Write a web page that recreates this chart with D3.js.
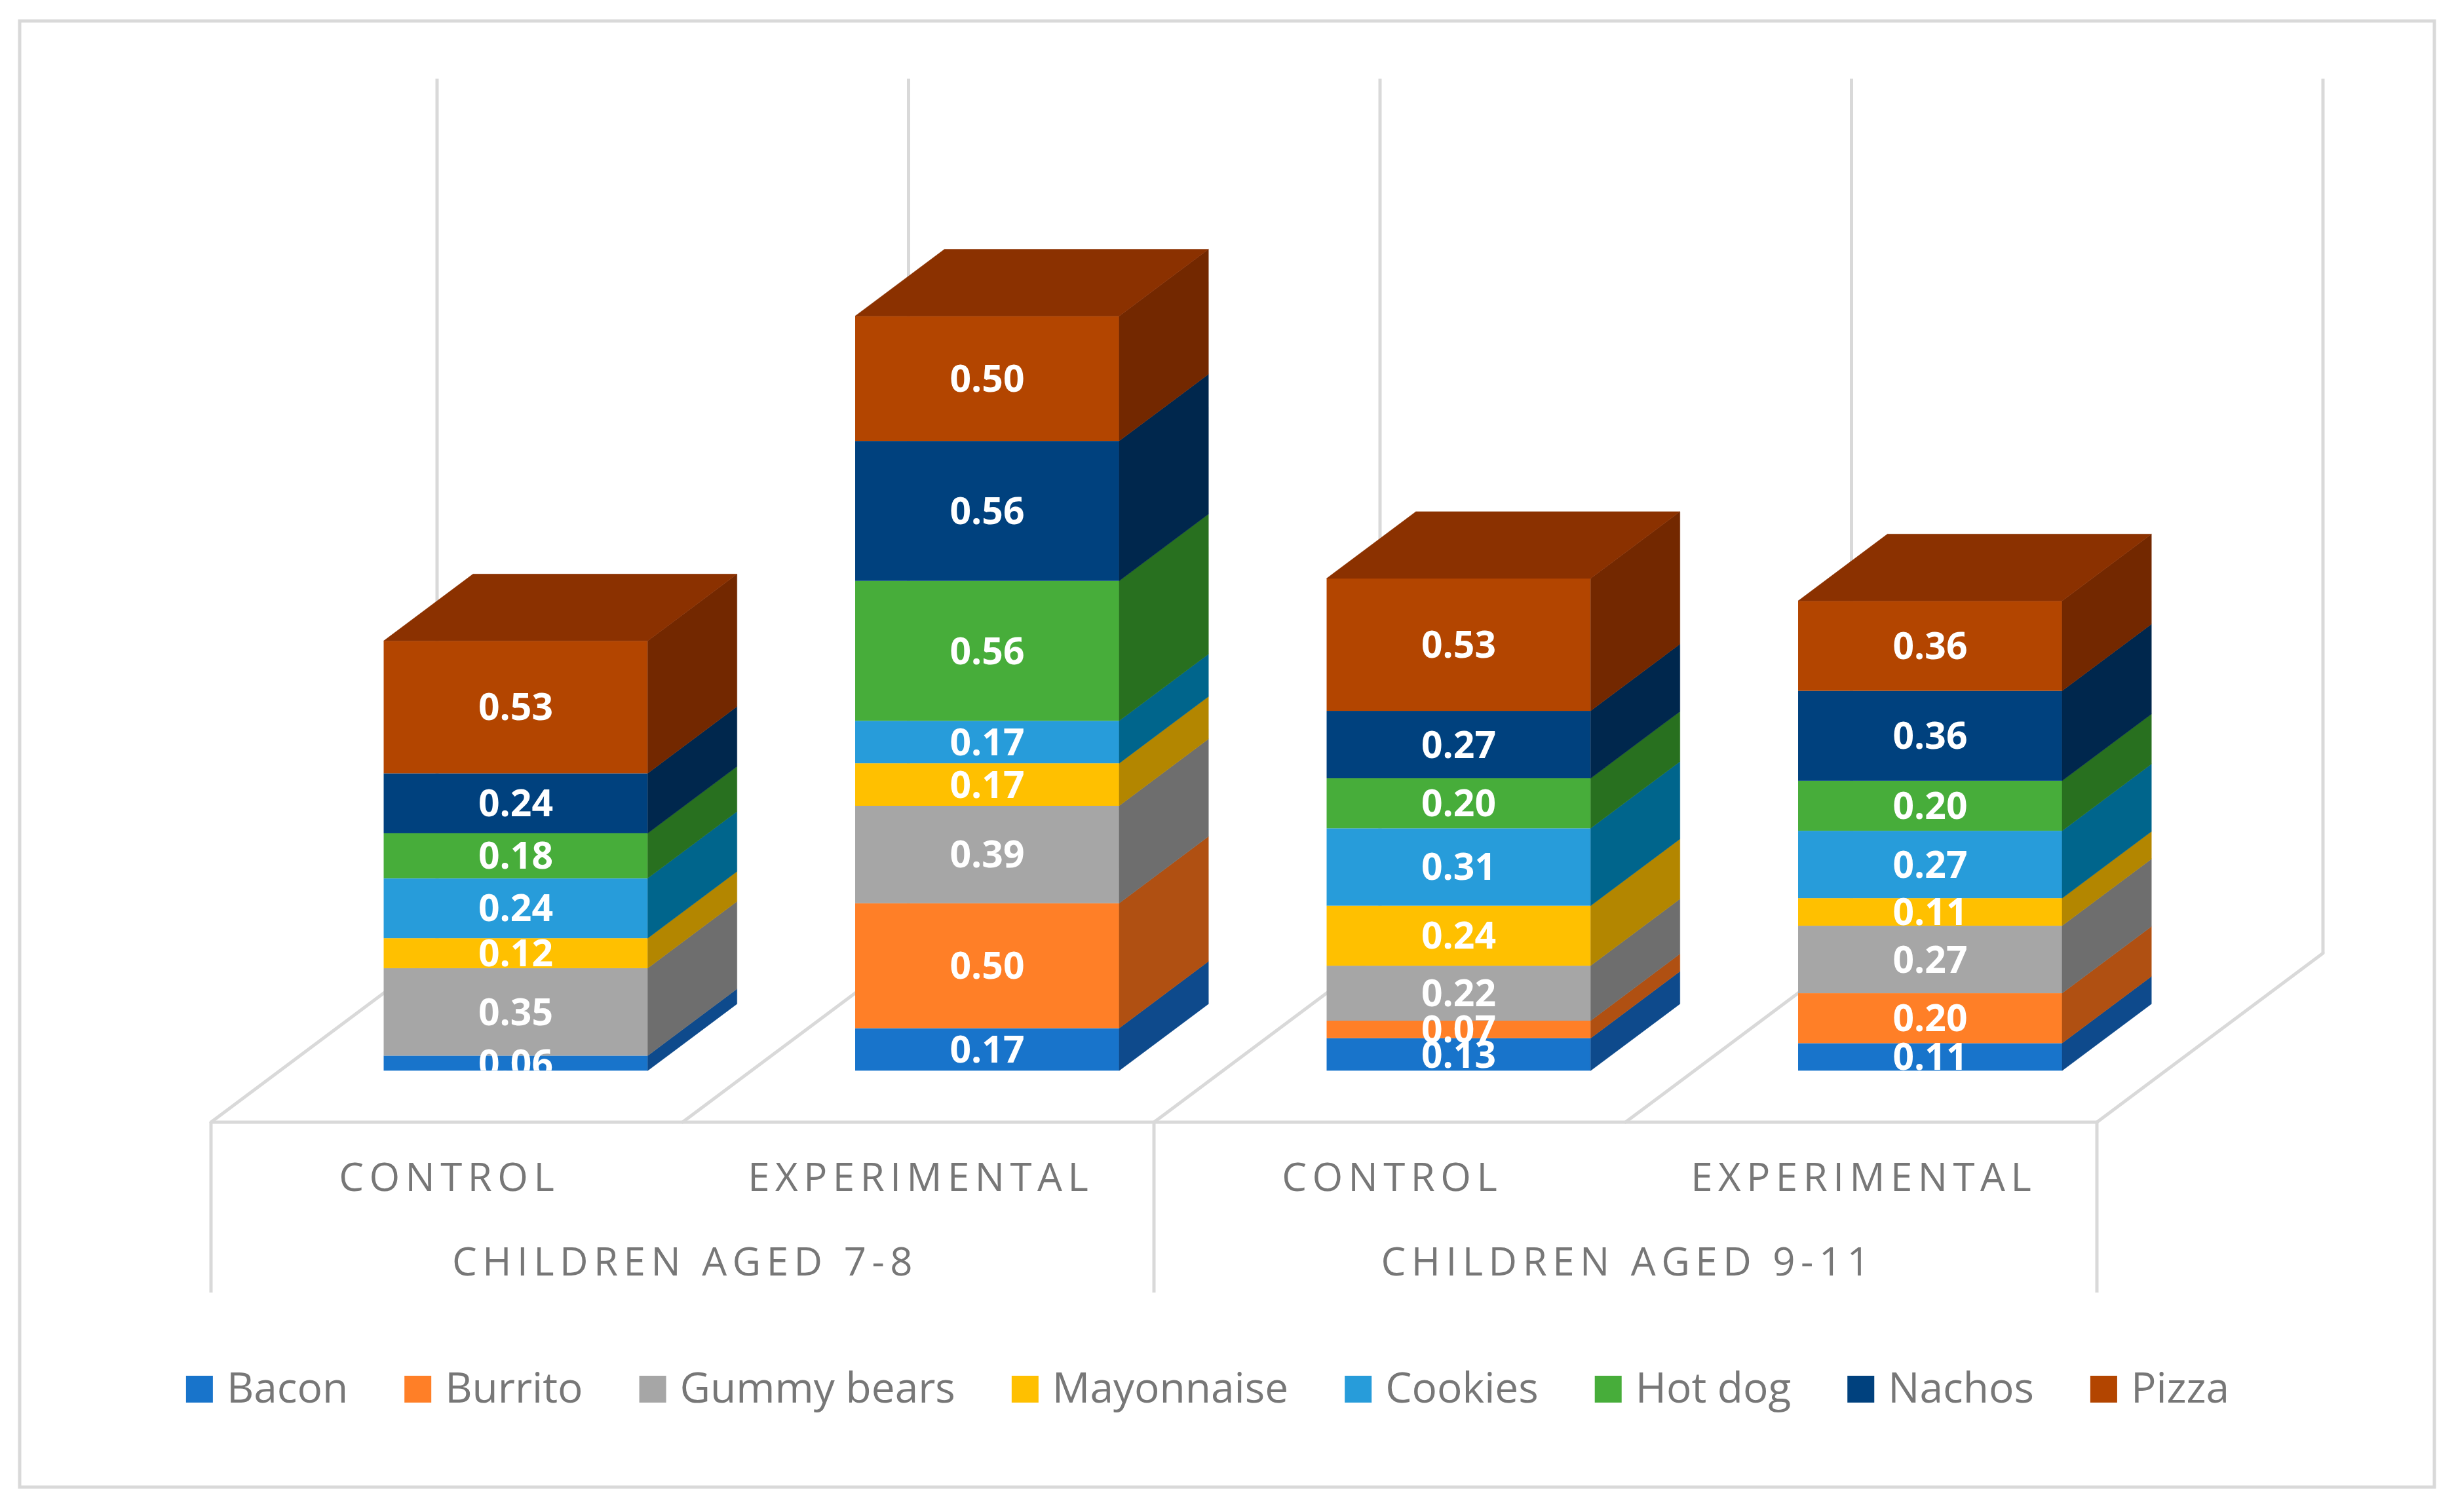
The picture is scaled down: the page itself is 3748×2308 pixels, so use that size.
<!DOCTYPE html>
<html>
<head>
<meta charset="utf-8">
<script src="https://cdn.jsdelivr.net/npm/d3@7"></script>
<style>
  body { margin: 0; background: #ffffff; }
  svg { display: block; }
</style>
</head>
<body>
<script>
// chart values
var groups = ["CHILDREN AGED 7-8", "CHILDREN AGED 9-11"];
var conditions = ["CONTROL", "EXPERIMENTAL"];
var series = ["Bacon", "Burrito", "Gummy bears", "Mayonnaise", "Cookies", "Hot dog", "Nachos", "Pizza"];

var bacon      = [0.06, 0.17, 0.13, 0.11];
var burrito    = [0.00, 0.50, 0.07, 0.20];
var gummyBears = [0.35, 0.39, 0.22, 0.27];
var mayonnaise = [0.12, 0.17, 0.24, 0.11];
var cookies    = [0.24, 0.17, 0.31, 0.27];
var hotDog     = [0.18, 0.56, 0.20, 0.20];
var nachos     = [0.24, 0.56, 0.27, 0.36];
var pizza      = [0.53, 0.50, 0.53, 0.36];

var valueMax = 3.5;

var colors     = ["#1874cb", "#ff7f27", "#a6a6a6", "#ffc000", "#279cda", "#47ad3a", "#00417e", "#b34500"];
var sideColors = ["#0e4a8c", "#b05012", "#6e6e6e", "#b38600", "#00658c", "#28701f", "#00274d", "#732800"];
var topColors  = ["#13599e", "#c6631e", "#818181", "#c69500", "#1e79aa", "#37872d", "#003262", "#8b3100"];

window.onload = (function () {
    var width = 3748;
    var height = 2308;

    var seriesValues = [bacon, burrito, gummyBears, mayonnaise, cookies, hotDog, nachos, pizza];

    // one row per bar
    var bars = [];
    groups.forEach(function (g) {
        conditions.forEach(function (c) {
            var row = { group: g, condition: c, id: g + "|" + c };
            series.forEach(function (s, si) {
                row[s] = seriesValues[si][bars.length];
            });
            bars.push(row);
        });
    });

    var stacked = d3.stack().keys(series)(bars);

    var floorY = 1713;
    var floorLeft = 322;
    var floorRight = 3200;
    var depthX = 345, depthY = -258;
    var barFront = 0.305, barBack = 0.70;
    var barFrac = 0.56;
    var grid = "#d9d9d9";
    var textGray = "#777777";

    var xScale = d3.scaleBand()
        .domain(bars.map(function (d) { return d.id; }))
        .range([floorLeft, floorRight]);

    var groupScale = d3.scaleBand()
        .domain(groups)
        .range([floorLeft, floorRight]);

    var hScale = d3.scaleLinear()
        .domain([0, valueMax])
        .range([0, 1335]);

    var color = d3.scaleOrdinal().domain(series).range(colors);
    var sideColor = d3.scaleOrdinal().domain(series).range(sideColors);
    var topColor = d3.scaleOrdinal().domain(series).range(topColors);

    var svg = d3.select("body").append("svg")
        .attr("width", width)
        .attr("height", height);

    svg.append("rect")
        .attr("width", width)
        .attr("height", height)
        .attr("fill", "#ffffff");

    // outer border
    svg.append("rect")
        .attr("x", 30)
        .attr("y", 32)
        .attr("width", 3685)
        .attr("height", 2238)
        .attr("fill", "none")
        .attr("stroke", grid)
        .attr("stroke-width", 5);

    var step = xScale.step();
    var bounds = d3.range(bars.length + 1).map(function (i) { return floorLeft + i * step; });
    var backY = floorY + depthY;

    // back wall gridlines
    svg.append("g").selectAll("line")
        .data(bounds)
        .enter()
        .append("line")
        .attr("x1", function (b) { return b + depthX; })
        .attr("x2", function (b) { return b + depthX; })
        .attr("y1", backY)
        .attr("y2", backY - hScale(valueMax))
        .attr("stroke", grid)
        .attr("stroke-width", 5);

    // floor
    var floor = svg.append("g")
        .attr("stroke", grid)
        .attr("stroke-width", 5)
        .attr("fill", "none");

    floor.selectAll("line.diag")
        .data(bounds)
        .enter()
        .append("line")
        .attr("class", "diag")
        .attr("x1", function (b) { return b; })
        .attr("y1", floorY)
        .attr("x2", function (b) { return b + depthX; })
        .attr("y2", backY)
        .attr("stroke-linecap", "round");

    floor.append("line")
        .attr("x1", floorLeft)
        .attr("x2", floorRight)
        .attr("y1", floorY)
        .attr("y2", floorY);

    // group separators under the floor
    var sepX = [floorLeft].concat(groups.map(function (g) { return groupScale(g) + groupScale.bandwidth(); }));
    floor.selectAll("line.sep")
        .data(sepX)
        .enter()
        .append("line")
        .attr("class", "sep")
        .attr("x1", function (d) { return d; })
        .attr("x2", function (d) { return d; })
        .attr("y1", floorY)
        .attr("y2", 1973);

    // bars
    var bw = step * barFrac;
    var fx = depthX * barFront, fy = depthY * barFront;
    var dx = depthX * (barBack - barFront), dy = depthY * (barBack - barFront);
    var base = floorY + fy;

    function frontLeft(d) {
        return xScale(d.data.id) + step / 2 + fx - bw / 2;
    }

    var barsG = svg.append("g");

    stacked.forEach(function (layer, li) {
        var c = color(layer.key);
        var cs = sideColor(layer.key);
        var ct = topColor(layer.key);
        layer.forEach(function (seg) {
            if (seg[1] - seg[0] <= 0) return;
            var xl = frontLeft(seg);
            var xr = xl + bw;
            var yb = base - hScale(seg[0]);
            var yt = base - hScale(seg[1]);
            var isTop = li === stacked.length - 1;

            barsG.append("rect")
                .attr("x", xl)
                .attr("y", yt)
                .attr("width", bw)
                .attr("height", yb - yt)
                .attr("fill", c);

            barsG.append("polygon")
                .attr("points", [[xr, yb], [xr, yt], [xr + dx, yt + dy], [xr + dx, yb + dy]].join(" "))
                .attr("fill", cs)
                .attr("stroke", cs)
                .attr("stroke-width", 0.5);

            if (isTop) {
                barsG.append("polygon")
                    .attr("points", [[xl, yt], [xr, yt], [xr + dx, yt + dy], [xl + dx, yt + dy]].join(" "))
                    .attr("fill", ct)
                    .attr("stroke", ct)
                    .attr("stroke-width", 0.5);
            }
        });
    });

    // data labels, clipped at the bar base
    svg.append("clipPath")
        .attr("id", "labelClip")
        .append("rect")
        .attr("x", 0)
        .attr("y", 0)
        .attr("width", width)
        .attr("height", base);

    var labels = svg.append("g")
        .attr("clip-path", "url(#labelClip)")
        .attr("font-family", "'Open Sans', sans-serif")
        .attr("font-weight", "bold")
        .attr("font-size", "57px")
        .attr("fill", "#ffffff")
        .attr("text-anchor", "middle");

    stacked.forEach(function (layer) {
        layer.forEach(function (seg) {
            var v = seg[1] - seg[0];
            if (v <= 0) return;
            var mid = base - hScale((seg[0] + seg[1]) / 2);
            labels.append("text")
                .attr("x", frontLeft(seg) + bw / 2)
                .attr("y", mid + 20)
                .text(d3.format(".2f")(v));
        });
    });

    // category labels
    var axisText = svg.append("g")
        .attr("font-family", "'Open Sans', sans-serif")
        .attr("font-size", "60px")
        .attr("fill", textGray)
        .attr("letter-spacing", "8.5px")
        .attr("text-anchor", "middle");

    axisText.selectAll("text.cond")
        .data(bars)
        .enter()
        .append("text")
        .attr("class", "cond")
        .attr("x", function (d) { return xScale(d.id) + step / 2 + 4; })
        .attr("y", 1818)
        .text(function (d) { return d.condition; });

    axisText.selectAll("text.grp")
        .data(groups)
        .enter()
        .append("text")
        .attr("class", "grp")
        .attr("x", function (g) { return groupScale(g) + groupScale.bandwidth() / 2 + 4; })
        .attr("y", 1947)
        .text(function (g) { return g; });

    // legend
    var legend = svg.append("g")
        .attr("font-family", "'Open Sans', sans-serif")
        .attr("font-size", "64px")
        .attr("fill", textGray);

    var sq = 41, sqGap = 62, itemGap = 86;
    var cursor = 0;
    series.forEach(function (s) {
        var item = legend.append("g").attr("transform", "translate(" + cursor + ",0)");
        item.append("rect")
            .attr("x", 0)
            .attr("y", 2141 - sq)
            .attr("width", sq)
            .attr("height", sq)
            .attr("fill", color(s));
        var t = item.append("text")
            .attr("x", sqGap)
            .attr("y", 2141)
            .text(s);
        cursor += sqGap + t.node().getComputedTextLength() + itemGap;
    });
    var total = cursor - itemGap;
    legend.attr("transform", "translate(" + (1843 - total / 2) + ",0)");
}) ;
</script>
</body>
</html>
